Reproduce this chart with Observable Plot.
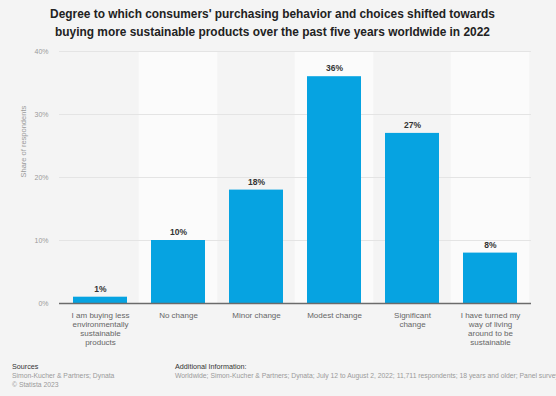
<!DOCTYPE html>
<html>
<head>
<meta charset="utf-8">
<script src="https://cdn.jsdelivr.net/npm/d3@7"></script>
<script src="https://cdn.jsdelivr.net/npm/@observablehq/plot@0.6"></script>
<style>
  html, body { margin: 0; padding: 0; background: #f4f4f4; }
  #wrap { position: relative; width: 556px; height: 396px; background: #f4f4f4; overflow: hidden; font-family: "Liberation Sans", Arial, sans-serif; }
  #title { position: absolute; left: 0; top: 5px; width: 545px; text-align: center; font-weight: bold; font-size: 11.9px; line-height: 18px; color: #222; }
  #chart { position: absolute; left: 0; top: 40px; }
  .foot { position: absolute; font-size: 6.8px; line-height: 9px; white-space: nowrap; }
  .foot .h { color: #333; font-size: 7.2px; }
  .foot .g { color: #9a9a9a; }
</style>
</head>
<body>
<div id="wrap">
  <div id="title">Degree to which consumers' purchasing behavior and choices shifted towards<br>buying more sustainable products over the past five years worldwide in 2022</div>
  <div id="chart"></div>
  <div class="foot" style="left:12px; top:362px;"><div class="h">Sources</div><div class="g">Simon-Kucher &amp; Partners; Dynata</div><div class="g">© Statista 2023</div></div>
  <div class="foot" style="left:175px; top:362px;"><div class="h">Additional Information:</div><div class="g">Worldwide; Simon-Kucher &amp; Partners; Dynata; July 12 to August 2, 2022; 11,711 respondents; 18 years and older; Panel survey</div></div>
</div>
<script>
const categories = [
  "I am buying less\nenvironmentally\nsustainable\nproducts",
  "No change",
  "Minor change",
  "Modest change",
  "Significant\nchange",
  "I have turned my\nway of living\naround to be\nsustainable"
];
const values = [1, 10, 18, 36, 27, 8];
const yTicks = [0, 10, 20, 30, 40];
const yLabel = "Share of respondents";

const data = categories.map((c, i) => ({cat: c, value: values[i]}));
const bands = categories.filter((c, i) => i % 2 === 1).map(c => ({cat: c}));

const padIn = 0.31;
const step = (531 - 59) / categories.length;
const bandInset = -step * padIn / 2;

const chart = Plot.plot({
  width: 556,
  height: 310,
  marginLeft: 59,
  marginRight: 25,
  marginTop: 11,
  marginBottom: 47,
  style: {background: "transparent", fontFamily: "'Liberation Sans', Arial, sans-serif"},
  x: {domain: categories, paddingInner: padIn, paddingOuter: padIn / 2, axis: null},
  y: {domain: [0, 40], axis: null},
  marks: [
    Plot.barY(bands, {x: "cat", y1: 0, y2: 40, fill: "#fbfbfb", insetLeft: bandInset, insetRight: bandInset}),
    Plot.ruleY(yTicks.filter(d => d > 0), {stroke: "#e4e4e4", strokeWidth: 1}),
    Plot.barY(data, {x: "cat", y: "value", fill: "#06a3e1"}),
    Plot.ruleY([0], {stroke: "#6b6b6b", strokeWidth: 1.3}),
    Plot.text(data, {x: "cat", y: "value", text: d => d.value + "%", dy: -8, fill: "#333", fontSize: 8.5, fontWeight: "600"}),
    Plot.text(data, {x: "cat", y: 0, text: "cat", lineAnchor: "top", dy: 8, fill: "#666", fontSize: 8, lineHeight: 1.13}),
    Plot.text(yTicks, {y: d => d, text: d => d + "%", frameAnchor: "left", dx: -11, textAnchor: "end", fill: "#9a9a9a", fontSize: 7}),
    Plot.text([yLabel], {frameAnchor: "left", dx: -36, rotate: -90, text: d => d, fill: "#9a9a9a", fontSize: 7.5})
  ]
});
document.getElementById("chart").appendChild(chart);
</script>
</body>
</html>
